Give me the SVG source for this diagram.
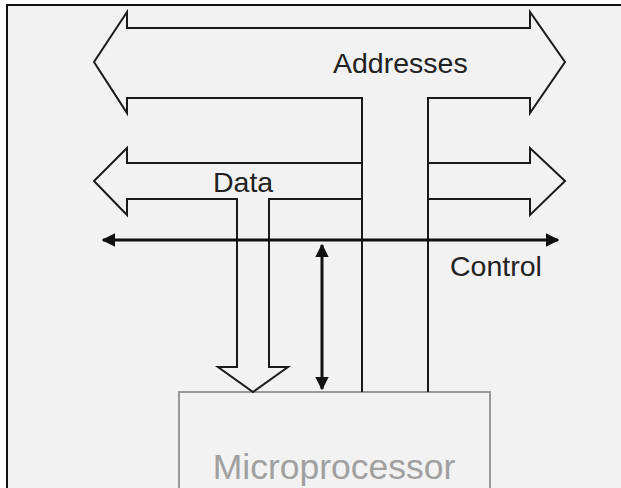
<svg xmlns="http://www.w3.org/2000/svg" width="621" height="488" viewBox="0 0 621 488">
<style>
.bus{fill:none;stroke:#1a1a1a;stroke-width:2;stroke-linejoin:miter}
.ctl{stroke:#111;stroke-width:3}
.lbl{font-family:"Liberation Sans",Arial,sans-serif;font-size:28.5px;fill:#222}
.cpu{fill:#f2f2f2;stroke:#999;stroke-width:2}
.cputxt{font-family:"Liberation Sans",Arial,sans-serif;font-size:35.5px;fill:#a0a0a0;text-anchor:middle}
</style>
<defs>
<marker id="ah" viewBox="0 0 10 10" refX="9" refY="5" markerWidth="4.5" markerHeight="4.5" orient="auto-start-reverse" markerUnits="strokeWidth">
<path d="M0,0 L10,5 L0,10 z" fill="#111"/>
</marker>
</defs>
<rect x="0" y="0" width="621" height="488" fill="#ffffff"/>
<rect x="7" y="5" width="700" height="560" fill="#f2f2f2" stroke="#111" stroke-width="2"/>
<g id="microprocessor">
<rect class="cpu" x="179" y="392" width="311" height="110"/>
<text class="cputxt" x="334" y="479">Microprocessor</text>
</g>
<g id="connectors">
<path id="data-bus-left" class="bus" d="M362,163 H127 V148 L94,181 L127,215 V199 H237 V367 H218 L253,392 L288,367 H269 V199 H362"/>
<path id="data-bus-right" class="bus" d="M428,163 H530 V148 L565,181 L530,215 V199 H428"/>
<path id="address-bus" class="bus" d="M362,392 V98 H127 V113 L94,62 L127,12 V28 H530 V12 L565,62 L530,113 V98 H428 V392"/>
<line id="control-bus" class="ctl" x1="103" y1="240" x2="558" y2="240" marker-start="url(#ah)" marker-end="url(#ah)"/>
<line id="control-link" class="ctl" x1="322" y1="245" x2="322" y2="389" marker-start="url(#ah)" marker-end="url(#ah)"/>
</g>
<g id="labels">
<text class="lbl" x="333" y="73">Addresses</text>
<text class="lbl" x="213" y="192">Data</text>
<text class="lbl" x="450" y="276">Control</text>
</g>
</svg>
